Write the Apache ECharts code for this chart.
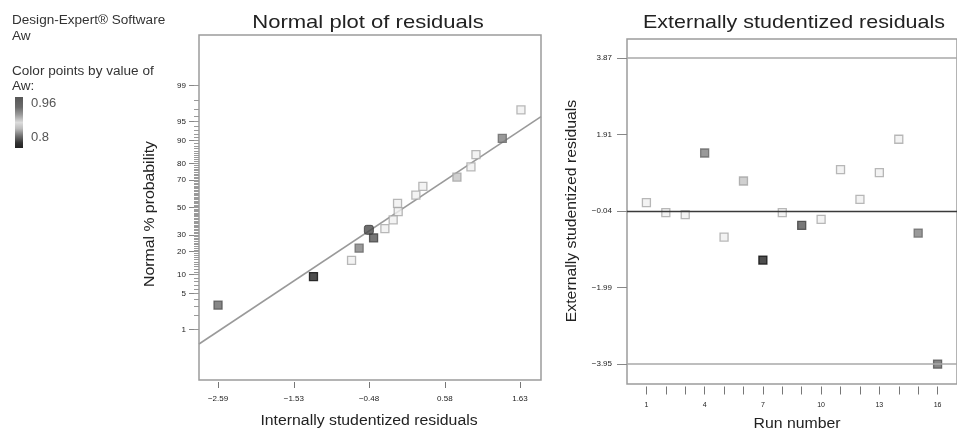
<!DOCTYPE html>
<html>
<head>
<meta charset="utf-8">
<script src="https://cdn.jsdelivr.net/npm/echarts@6/dist/echarts.min.js"></script>
<style>html,body{margin:0;padding:0;background:#fff}#c{width:957px;height:430px}</style>
</head>
<body>
<div id="c"></div>
<script>
// ---------- data ----------
const runs = [1,2,3,4,5,6,7,8,9,10,11,12,13,14,15,16];
const internalResid = [0.175,-0.072,-0.142,1.383,-0.724,0.749,-1.256,-0.081,-0.416,-0.258,1.015,0.273,0.945,1.644,-0.618,-2.59];
const normalPct = [59.375,46.875,40.625,90.625,15.625,71.875,9.375,53.125,28.125,34.375,84.375,65.625,78.125,96.875,21.875,3.125];
const externalResid = [0.175,-0.081,-0.132,1.443,-0.705,0.727,-1.293,-0.081,-0.406,-0.252,1.019,0.259,0.942,1.794,-0.603,-3.953];
const awValue = [0.88,0.88,0.88,0.93,0.88,0.90,0.80,0.88,0.83,0.88,0.88,0.88,0.88,0.88,0.93,0.94];
const extraPoint = [-0.482, 33.5];
const fitLineX = [-2.856, 1.924];
const fitLinePct = [0.459, 95.85];
const xTicksLeft = [-2.59,-1.53,-0.48,0.58,1.63];
const pctLabels = [1,5,10,20,30,50,70,80,90,95,99];
const pctMinor = [];
for (let p=1;p<=99;p++) pctMinor.push(p);
const yTicksRight = [3.87,1.91,-0.04,-1.99,-3.95];
const limitLines = [3.87,-0.04,-3.95];
const runLabels = [1,4,7,10,13,16];

// ---------- helpers ----------
function probit(p){ // inverse normal CDF, Acklam
  const a=[-3.969683028665376e+01,2.209460984245205e+02,-2.759285104469687e+02,1.383577518672690e+02,-3.066479806614716e+01,2.506628277459239e+00];
  const b=[-5.447609879822406e+01,1.615858368580409e+02,-1.556989798598866e+02,6.680131188771972e+01,-1.328068155288572e+01];
  const c=[-7.784894002430293e-03,-3.223964580411365e-01,-2.400758277161838e+00,-2.549732539343734e+00,4.374664141464968e+00,2.938163982698783e+00];
  const d=[7.784695709041462e-03,3.224671290700398e-01,2.445134137142996e+00,3.754408661907416e+00];
  const pl=0.02425, ph=1-pl; let q,r;
  if(p<pl){q=Math.sqrt(-2*Math.log(p));return (((((c[0]*q+c[1])*q+c[2])*q+c[3])*q+c[4])*q+c[5])/((((d[0]*q+d[1])*q+d[2])*q+d[3])*q+1);}
  if(p<=ph){q=p-0.5;r=q*q;return (((((a[0]*r+a[1])*r+a[2])*r+a[3])*r+a[4])*r+a[5])*q/(((((b[0]*r+b[1])*r+b[2])*r+b[3])*r+b[4])*r+1);}
  q=Math.sqrt(-2*Math.log(1-p));return -(((((c[0]*q+c[1])*q+c[2])*q+c[3])*q+c[4])*q+c[5])/((((d[0]*q+d[1])*q+d[2])*q+d[3])*q+1);
}
const z = p => probit(p/100);
const shadeStops = [[0.78,0x1e],[0.80,0x22],[0.83,0x55],[0.86,0xc8],[0.88,0xf0],[0.90,0xc4],[0.93,0x80],[0.94,0x68],[0.96,0x57],[0.99,0x50]];
function gray(v){
  let g = shadeStops[0][1];
  for (let i=0;i<shadeStops.length-1;i++){
    const [a,ga]=shadeStops[i],[b,gb]=shadeStops[i+1];
    if (v>=a && v<=b){ g = ga+(gb-ga)*(v-a)/(b-a); break; }
    if (v>b) g = gb;
  }
  return Math.round(g);
}
function hex(g){ g=Math.max(0,Math.min(255,g)); const h=g.toString(16).padStart(2,'0'); return '#'+h+h+h; }
function styleFor(v){
  const g = gray(v);
  const bd = g>0xe0 ? 0xa6 : (g>0xb0 ? g-0x22 : g-0x18);
  return {color: hex(g), borderColor: hex(bd), borderWidth: 1.3};
}
const minus = s => String(s).replace('-', '\u2212');
const FONT = 'Liberation Sans, Arial, Helvetica, sans-serif';
const SX = 1.13;

const leftData = runs.map((r,i)=>({value:[internalResid[i], z(normalPct[i])], itemStyle: styleFor(awValue[i])}));
const rightData = runs.map((r,i)=>({value:[r, externalResid[i]], itemStyle: styleFor(awValue[i])}));
const zLabels = pctLabels.map(z);
const zMinor = pctMinor.map(z);
const ZR = 3.292;

function txt(text, x, y, size, opts){
  opts = opts || {};
  return {type:'text', x:x, y:y, rotation:opts.rot||0, scaleX:opts.sx||SX,
    style:{text:text, font:size+'px '+FONT, fill:opts.fill||'#222', align:opts.align||'center', verticalAlign:'middle'}};
}

const chart = echarts.init(document.getElementById('c'), null, {renderer:'canvas'});
chart.setOption({
  animation: false,
  backgroundColor: '#ffffff',
  textStyle: {fontFamily: FONT},
  grid: [
    {left:199, top:35, width:342, height:345, show:true, borderColor:'#9c9c9c', borderWidth:1.5, backgroundColor:'transparent'},
    {left:627, top:39, width:343, height:345, show:true, borderColor:'#9c9c9c', borderWidth:1.5, backgroundColor:'transparent'}
  ],
  xAxis: [
    {gridIndex:0, type:'value', min:fitLineX[0], max:fitLineX[1], offset:2, position:'bottom',
     axisLine:{show:false, onZero:false}, splitLine:{show:false},
     axisTick:{show:true, length:6, customValues:xTicksLeft, lineStyle:{color:'#777'}},
     axisLabel:{customValues:xTicksLeft, margin:13, fontSize:8, color:'#222', fontFamily:FONT, formatter:v=>minus(v.toFixed(2))}},
    {gridIndex:1, type:'value', min:0, max:17, offset:2.5, position:'bottom',
     axisLine:{show:false, onZero:false}, splitLine:{show:false},
     axisTick:{show:true, length:8, customValues:runs, lineStyle:{color:'#777'}},
     axisLabel:{customValues:runLabels, margin:15, fontSize:7, color:'#222', fontFamily:FONT}}
  ],
  yAxis: [
    {gridIndex:0, type:'value', min:-ZR, max:ZR, position:'left',
     axisLine:{show:false, onZero:false}, splitLine:{show:false},
     axisTick:{show:true, length:10, customValues:zLabels, lineStyle:{color:'#888'}},
     axisLabel:{customValues:zLabels, margin:13, fontSize:8, color:'#222', fontFamily:FONT,
       formatter:function(v){let best=0,bd=1e9;zLabels.forEach((zz,i)=>{const d=Math.abs(zz-v);if(d<bd){bd=d;best=i;}});return String(pctLabels[best]);}}},
    {gridIndex:0, type:'value', min:-ZR, max:ZR, position:'left',
     axisLine:{show:false, onZero:false}, splitLine:{show:false},
     axisTick:{show:true, length:5, customValues:zMinor, lineStyle:{color:'#999', width:1}},
     axisLabel:{show:false}},
    {gridIndex:1, type:'value', min:-4.461, max:4.356, position:'left',
     axisLine:{show:false, onZero:false}, splitLine:{show:false},
     axisTick:{show:true, length:10, customValues:yTicksRight, lineStyle:{color:'#888'}},
     axisLabel:{customValues:yTicksRight, margin:15, fontSize:8, color:'#222', fontFamily:FONT, formatter:v=>minus(v.toFixed(2))}}
  ],
  series: [
    {type:'line', xAxisIndex:0, yAxisIndex:0, data:[[fitLineX[0], z(fitLinePct[0])],[fitLineX[1], z(fitLinePct[1])]],
     symbol:'none', lineStyle:{color:'#9a9a9a', width:1.6}, silent:true, z:1},
    {type:'scatter', xAxisIndex:0, yAxisIndex:0, data:leftData, symbol:'rect', symbolSize:8, z:3},
    {type:'scatter', xAxisIndex:0, yAxisIndex:0, data:[[extraPoint[0], z(extraPoint[1])]], symbol:'roundRect', symbolSize:9,
     itemStyle:{color:'#4a4a4a', borderColor:'#3a3a3a', borderWidth:1}, z:4},
    {type:'scatter', xAxisIndex:1, yAxisIndex:2, data:rightData, symbol:'rect', symbolSize:8, z:3,
     markLine:{silent:true, symbol:'none', label:{show:false},
       data: limitLines.map(v=>({yAxis:v, lineStyle:{type:'solid', width: v===limitLines[1]?1.4:1.6, color: v===limitLines[1]?'#3a3a3a':'#a8a8a8'}}))}}
  ],
  graphic: [
    txt('Design-Expert® Software', 12, 21, 12, {align:'left', fill:'#333'}),
    txt('Aw', 12, 37, 12, {align:'left', fill:'#333'}),
    txt('Color points by value of', 12, 72, 12, {align:'left', fill:'#333'}),
    txt('Aw:', 12, 87, 12, {align:'left', fill:'#333'}),
    {type:'rect', shape:{x:15, y:97, width:8, height:51},
     style:{fill:new echarts.graphic.LinearGradient(0,0,0,1,[
       {offset:0,color:'#575757'},{offset:0.2,color:'#6a6a6a'},{offset:0.35,color:'#9c9c9c'},
       {offset:0.5,color:'#dcdcdc'},{offset:0.62,color:'#bcbcbc'},{offset:0.76,color:'#727272'},
       {offset:0.9,color:'#333333'},{offset:1,color:'#222222'}])}},
    txt('0.96', 31, 103, 13, {align:'left', fill:'#555', sx:1}),
    txt('0.8', 31, 137, 13, {align:'left', fill:'#555', sx:1}),
    txt('Normal plot of residuals', 368, 23, 19, {sx:1.16}),
    txt('Externally studentized residuals', 794, 23, 19, {sx:1.13}),
    txt('Internally studentized residuals', 369, 421, 14),
    txt('Run number', 797, 424, 14),
    txt('Normal % probability', 150, 214, 14, {rot:Math.PI/2}),
    txt('Externally studentized residuals', 572, 211, 14, {rot:Math.PI/2})
  ]
});
</script>
</body>
</html>
